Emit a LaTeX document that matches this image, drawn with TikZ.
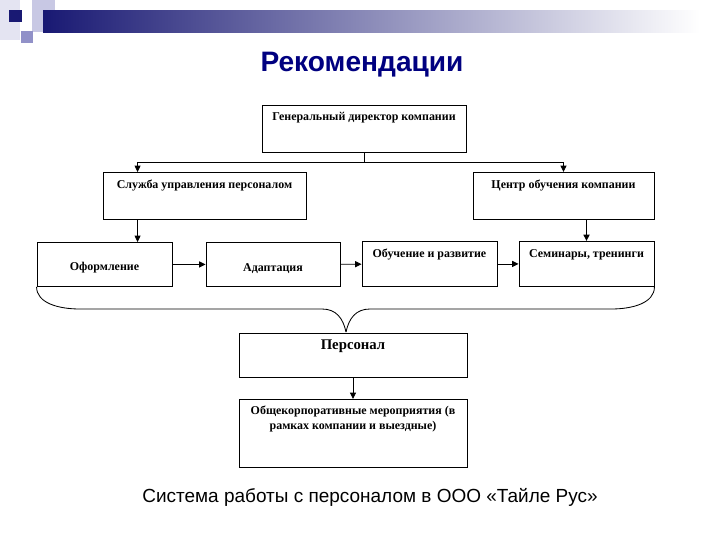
\documentclass[tikz,border=0pt]{standalone}
\usepackage{fontspec}
\setmainfont{Liberation Serif}
\setsansfont{Liberation Sans}
\usetikzlibrary{arrows.meta,positioning,calc}
\definecolor{slidenavy}{RGB}{0,0,128}
\definecolor{barnavy}{RGB}{25,25,115}
\definecolor{barmid}{RGB}{165,165,192}
\definecolor{sqpale}{RGB}{228,228,242}
\definecolor{sqlight}{RGB}{200,200,228}
\definecolor{sqmid}{RGB}{145,145,200}
\tikzset{
 unit/.style={draw=black,line width=0.6pt,inner sep=0pt,anchor=north,align=center,font=\bfseries\fontsize{8.5}{10.5}\selectfont},
 arrow/.style={-{Triangle[length=0.16cm,width=0.15cm]},line width=0.6pt,draw=black},
 heading/.style={font=\sffamily\bfseries\fontsize{20}{24}\selectfont,text=slidenavy},
 slidecaption/.style={font=\sffamily\fontsize{13.5}{16}\selectfont}}
\begin{document}
\begin{tikzpicture}[x=0.025cm,y=-0.025cm]
\useasboundingbox (0,0) rectangle (720,540);
% slide decoration
\fill[sqpale] (0,0) rectangle (20,40);
\fill[sqlight] (32,0) rectangle (55,22);
\shade[left color=barnavy,middle color=barmid,right color=white] (43,10) rectangle (700,32);
\fill[sqlight] (32,10) rectangle (43,32);
\fill[sqmid] (21,31) rectangle (33,43);
\fill[barnavy] (9,10) rectangle (22,22);
\node[heading] (title) at (362,65) {Рекомендации};
% top level
\node[unit,minimum width=5.1cm,text height=0.375cm,text depth=0.8cm] (director) at (364,105) {Генеральный директор компании};
\node[unit,minimum width=5.075cm,text height=0.4cm,text depth=0.775cm] (hr) at (204.5,172) {Служба управления персоналом};
\node[unit,minimum width=4.525cm,text height=0.4cm,text depth=0.775cm] (training) at (563.5,172) {Центр обучения компании};
\coordinate (fork) at (364,162);
\draw[line width=0.6pt] (director) -- (fork);
\draw[arrow] (fork) -| ([xshift=0.875cm]hr.north west);
\draw[arrow] (fork) -| (training.north);
% row of functions
\node[unit,minimum width=3.375cm,text height=0.7cm,text depth=0.4cm] (formal) at (104.5,242) {Оформление};
\node[unit,minimum width=3.35cm,text height=0.725cm,text depth=0.375cm] (adapt) at (273,242) {Адаптация};
\node[unit,minimum width=3.375cm,text height=0.4cm,text depth=0.725cm] (develop) at (429.5,241) {Обучение и развитие};
\node[unit,minimum width=3.375cm,text height=0.4cm,text depth=0.725cm] (seminar) at (586.5,241) {Семинары, тренинги};
\draw[arrow] ([xshift=0.875cm]hr.south west) -- ([xshift=0.875cm]hr.south west |- formal.north);
\draw[arrow,line width=1.2pt] (training.south -| seminar) -- (seminar.north);
\draw[arrow] (formal) -- (adapt);
\draw[arrow] (adapt) -- (develop);
\draw[arrow] (develop) -- (seminar);
% brace
\coordinate (tip) at (346,332);
\draw[line width=0.6pt] (formal.south west) .. controls +(0,16) and +(-22,0) .. (80,309) -- (322,309) .. controls (336,309) and (343,318) .. (tip);
\draw[line width=0.6pt] (seminar.south east) .. controls +(0,16) and +(22,0) .. (611,309) -- (370,309) .. controls (356,309) and (349,318) .. (tip);
% staff
\node[unit,minimum width=5.7cm,text height=0.4cm,text depth=0.7cm,font=\bfseries\fontsize{10.5}{12}\selectfont] (staff) at (353,333) {Персонал};
\node[unit,minimum width=5.7cm,text height=0.75cm,text depth=0.95cm] (events) at (353,399) {Общекорпоративные мероприятия (в\\рамках компании и выездные)};
\draw[arrow] (staff) -- (events);
\node[slidecaption] (caption) at (370,497) {Система работы с персоналом в ООО «Тайле Рус»};
\end{tikzpicture}
\end{document}
